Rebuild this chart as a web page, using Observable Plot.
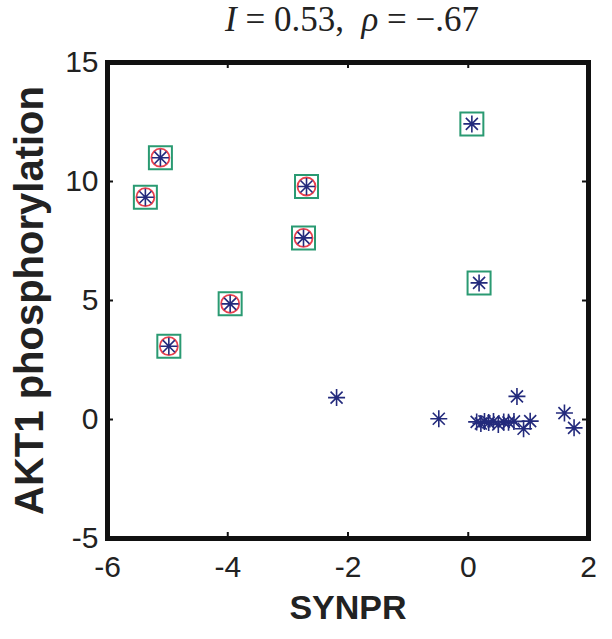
<!DOCTYPE html>
<html>
<head>
<meta charset="utf-8">
<script src="https://cdn.jsdelivr.net/npm/d3@7"></script>
<script src="https://cdn.jsdelivr.net/npm/@observablehq/plot@0.6"></script>
<style>
  html, body { margin: 0; padding: 0; background: #fff; }
  #title { height: 40px; width: 612px; font-family: "Liberation Serif", "DejaVu Serif", serif; font-size: 35px; line-height: 40px; color: #222; }
  #title .t { position: relative; left: 352px; display: inline-block; transform: translateX(-50%); white-space: pre; }
  #title i { font-style: italic; }
</style>
</head>
<body>
<div id="title"><span class="t"><i>I</i> = 0.53,  <i>ρ</i> = −.67</span></div>
<div id="chart"></div>
<script>
// Points marked with green square and red circle
const circX = [-5.12, -5.37, -2.69, -2.74, -3.96, -4.98];
const circY = [11.0, 9.34, 9.79, 7.63, 4.86, 3.08];
// Points marked with green square only
const boxX = [0.06, 0.18];
const boxY = [12.42, 5.74];
// Plain asterisk points
const plainX = [-2.19, -0.49, 0.81, 1.60, 1.76, 1.03, 0.92, 0.14, 0.21, 0.27, 0.34, 0.42, 0.50, 0.59, 0.67, 0.76];
const plainY = [0.92, 0.03, 0.97, 0.27, -0.35, -0.07, -0.39, -0.10, -0.17, -0.08, -0.13, -0.08, -0.21, -0.10, -0.12, -0.08];

const xTicks = [-6, -4, -2, 0, 2];
const yTicks = [-5, 0, 5, 10, 15];
const xInnerTicks = [-4, -2, 0];
const yInnerTicks = [0, 5, 10];
const xLabel = "SYNPR";
const yLabel = "AKT1 phosphorylation";

const circ = circX.map((x, i) => ({x, y: circY[i]}));
const box = boxX.map((x, i) => ({x, y: boxY[i]}));
const plain = plainX.map((x, i) => ({x, y: plainY[i]}));
const boxed = circ.concat(box);
const all = boxed.concat(plain);

const asterisk = {
  draw(ctx, size) {
    const r = Math.sqrt(size / Math.PI);
    for (let k = 0; k < 4; ++k) {
      const a = k * Math.PI / 4;
      const dx = r * Math.cos(a), dy = r * Math.sin(a);
      ctx.moveTo(-dx, -dy); ctx.lineTo(dx, dy);
    }
  }
};
const squareSym = {
  draw(ctx, size) {
    const r = Math.sqrt(size / Math.PI);
    ctx.moveTo(-r, -r); ctx.lineTo(r, -r); ctx.lineTo(r, r); ctx.lineTo(-r, r); ctx.closePath();
  }
};

const W = 612, H = 599;
const mL = 107, mR = 24, mT = 22, mB = 101;
const pw = W - mL - mR, ph = H - mT - mB;
const font = "Liberation Sans, Arial, Helvetica, sans-serif";

const chart = Plot.plot({
  width: W, height: H,
  marginLeft: mL, marginRight: mR, marginTop: mT, marginBottom: mB,
  style: {fontFamily: font, background: "#fff", color: "#222"},
  x: {domain: [-6, 2], axis: null},
  y: {domain: [-5, 15], axis: null},
  marks: [
    Plot.axisX(xTicks, {anchor: "bottom", label: null, tickSize: 0, tickPadding: 17, fontSize: 30, tickFormat: d => String(d), fill: "#222"}),
    Plot.axisY(yTicks, {anchor: "left", label: null, tickSize: 0, tickPadding: 9, fontSize: 30, tickFormat: d => String(d), fill: "#222"}),
    Plot.tickX(xInnerTicks, {x: d => d, insetTop: ph - 6, stroke: "#111", strokeWidth: 2}),
    Plot.tickX(xInnerTicks, {x: d => d, insetBottom: ph - 6, stroke: "#111", strokeWidth: 2}),
    Plot.tickY(yInnerTicks, {y: d => d, insetRight: pw - 6, stroke: "#111", strokeWidth: 2}),
    Plot.tickY(yInnerTicks, {y: d => d, insetLeft: pw - 6, stroke: "#111", strokeWidth: 2}),
    Plot.frame({stroke: "#111", strokeWidth: 5}),
    Plot.dot(boxed, {x: "x", y: "y", symbol: squareSym, r: 11.5, fill: "#fff", stroke: "#2a9a72", strokeWidth: 2}),
    Plot.dot(circ, {x: "x", y: "y", symbol: "circle", r: 9, fill: "none", stroke: "#e8404e", strokeWidth: 1.8}),
    Plot.dot(all, {x: "x", y: "y", symbol: asterisk, r: 8.5, fill: "none", stroke: "#232a7c", strokeWidth: 1.6}),
    Plot.text([xLabel], {frameAnchor: "bottom", dy: 80, fontSize: 34, fontWeight: "bold", fill: "#222"}),
    Plot.text([yLabel], {frameAnchor: "left", textAnchor: "middle", dx: -77, rotate: -90, fontSize: 40, fontWeight: "bold", fill: "#222"})
  ]
});
document.getElementById("chart").appendChild(chart);
</script>
</body>
</html>
